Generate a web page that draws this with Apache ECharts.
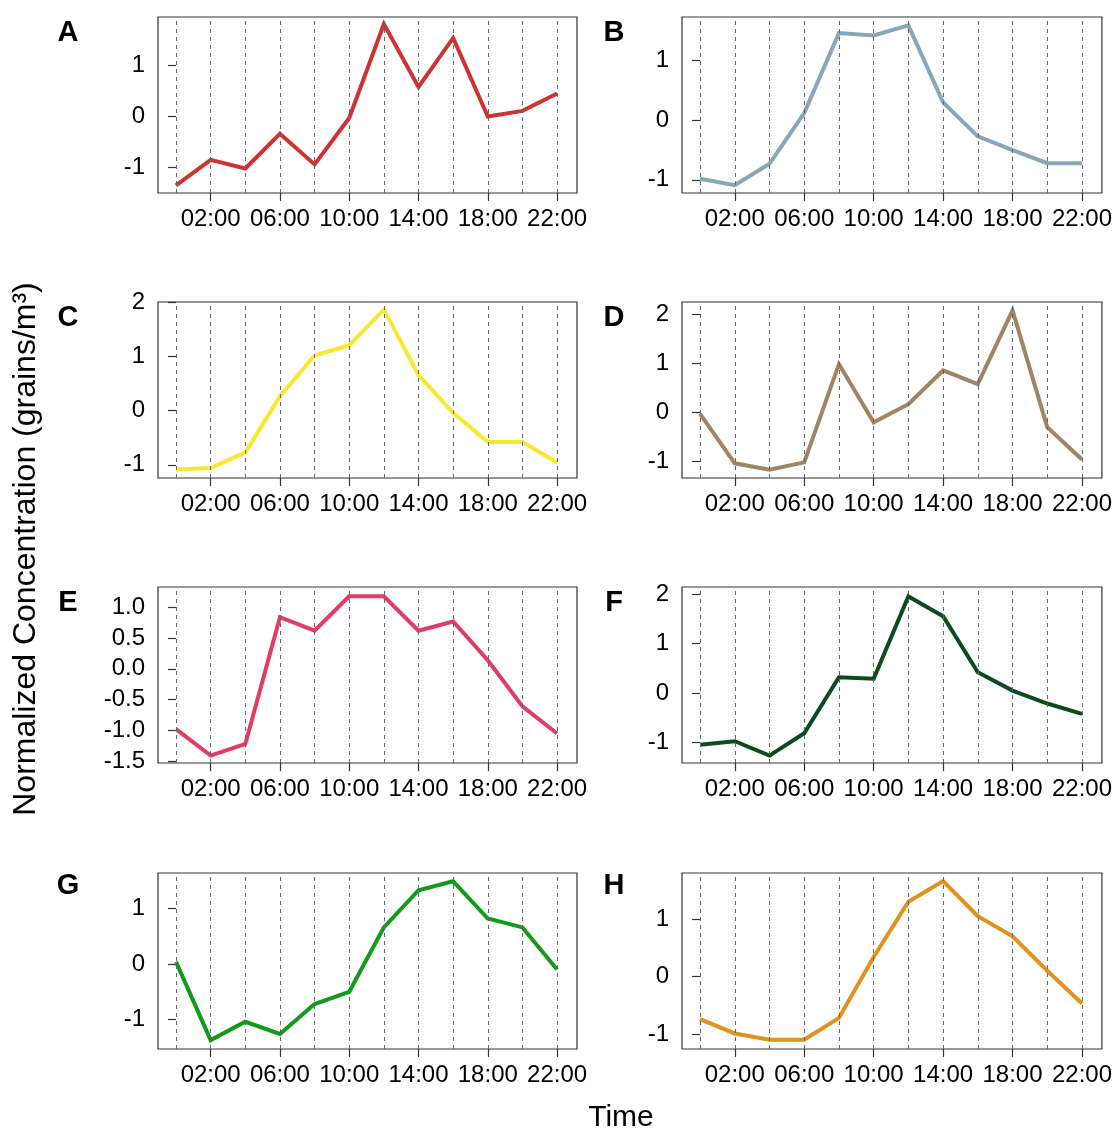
<!DOCTYPE html>
<html>
<head>
<meta charset="utf-8">
<script src="https://cdn.jsdelivr.net/npm/echarts@6/dist/echarts.min.js"></script>
<style>
html,body{margin:0;padding:0;background:#fff;}
#chart{width:1115px;height:1129px;}
</style>
</head>
<body>
<div id="chart"></div>
<script>
// ---- data ----
const hours = [0, 2, 4, 6, 8, 10, 12, 14, 16, 18, 20, 22];
const xTickHours = [2, 6, 10, 14, 18, 22];
const panelLetters = ['A', 'B', 'C', 'D', 'E', 'F', 'G', 'H'];
const seriesA = [-1.36, -0.86, -1.03, -0.35, -0.95, -0.04, 1.80, 0.57, 1.53, -0.01, 0.10, 0.44];
const seriesB = [-0.98, -1.09, -0.73, 0.12, 1.46, 1.42, 1.59, 0.30, -0.27, -0.50, -0.72, -0.72];
const seriesC = [-1.09, -1.06, -0.77, 0.27, 1.02, 1.21, 1.87, 0.66, -0.04, -0.58, -0.58, -0.96];
const seriesD = [-0.04, -1.05, -1.18, -1.03, 0.98, -0.21, 0.16, 0.85, 0.57, 2.08, -0.31, -0.97];
const seriesE = [-0.98, -1.41, -1.22, 0.84, 0.62, 1.18, 1.18, 0.62, 0.77, 0.14, -0.61, -1.05];
const seriesF = [-1.04, -0.97, -1.26, -0.81, 0.32, 0.29, 1.95, 1.55, 0.42, 0.05, -0.21, -0.42];
const seriesG = [0.04, -1.37, -1.04, -1.26, -0.72, -0.50, 0.66, 1.33, 1.49, 0.82, 0.66, -0.10];
const seriesH = [-0.74, -0.99, -1.10, -1.10, -0.72, 0.34, 1.30, 1.66, 1.05, 0.70, 0.10, -0.47];
const allSeries = [seriesA, seriesB, seriesC, seriesD, seriesE, seriesF, seriesG, seriesH];
const yTicks = [
  [-1, 0, 1], [-1, 0, 1], [-1, 0, 1, 2], [-1, 0, 1, 2],
  [-1.5, -1.0, -0.5, 0.0, 0.5, 1.0], [-1, 0, 1, 2], [-1, 0, 1], [-1, 0, 1]
];
const yMins = [-1.51, -1.22, -1.245, -1.35, -1.53, -1.41, -1.53, -1.26];
const yMaxs = [1.94, 1.73, 2.01, 2.25, 1.33, 2.14, 1.64, 1.80];
const xMin = -1.04, xMax = 23.15;
const colors = ['#CD3333', '#87A6BA', '#F8E831', '#A08463', '#E03C66', '#0D4A22', '#139A1D', '#E0921F'];

// ---- layout ----
const colLeft = [158, 682];
const colWidth = [419, 420];
const rowTop = [17, 302, 587, 873];
const plotH = 176;
const letterX = [68, 614];
const letterY = [33, 318, 603, 886];
const FONT = '"Liberation Sans", Arial, sans-serif';

const grids = [], xAxes = [], yAxes = [], series = [], graphics = [];
for (let i = 0; i < 8; i++) {
  const c = i % 2, r = Math.floor(i / 2);
  grids.push({
    left: colLeft[c], top: rowTop[r], width: colWidth[c], height: plotH,
    show: true, borderColor: '#333', borderWidth: 1.2, backgroundColor: 'transparent'
  });
  xAxes.push({
    gridIndex: i, type: 'value', min: xMin, max: xMax,
    axisLine: { show: false, onZero: false },
    axisTick: { show: true, length: 8, lineStyle: { color: '#333', width: 1.2 }, customValues: xTickHours },
    axisLabel: {
      customValues: xTickHours, margin: 14, color: '#000', fontSize: 24, fontFamily: FONT,
      formatter: v => String(v).padStart(2, '0') + ':00'
    },
    splitLine: { show: false }
  });
  const isE = i === 4;
  yAxes.push({
    gridIndex: i, type: 'value', min: yMins[i], max: yMaxs[i],
    axisLine: { show: false },
    axisTick: { show: true, length: 8, lineStyle: { color: '#333', width: 1.2 }, customValues: yTicks[i] },
    axisLabel: {
      customValues: yTicks[i], margin: 13, color: '#000', fontSize: 24, fontFamily: FONT,
      formatter: v => isE ? Number(v).toFixed(1) : String(Math.round(v))
    },
    splitLine: { show: false }
  });
  series.push({
    type: 'line', xAxisIndex: i, yAxisIndex: i,
    data: hours.map((h, k) => [h, allSeries[i][k]]),
    showSymbol: false, symbol: 'none',
    lineStyle: { color: colors[i], width: 4, join: 'miter' },
    itemStyle: { color: colors[i] },
    z: 3,
    markLine: {
      silent: true, symbol: ['none', 'none'], animation: false,
      label: { show: false },
      lineStyle: { color: '#666', width: 1, type: [4, 4] },
      data: hours.map(h => ({ xAxis: h }))
    }
  });
  graphics.push({
    type: 'text', x: letterX[c], y: letterY[r],
    style: { text: panelLetters[i], font: 'bold 29px ' + FONT, fill: '#000', align: 'center', verticalAlign: 'middle' }
  });
}
graphics.push({
  type: 'text', x: 26, y: 549, rotation: Math.PI / 2,
  style: { text: 'Normalized Concentration (grains/m³)', font: '32px ' + FONT, fill: '#000', align: 'center', verticalAlign: 'middle' }
});
graphics.push({
  type: 'text', x: 621, y: 1118,
  style: { text: 'Time', font: '30px ' + FONT, fill: '#000', align: 'center', verticalAlign: 'middle' }
});

const chart = echarts.init(document.getElementById('chart'), null, { renderer: 'canvas' });
chart.setOption({
  animation: false,
  backgroundColor: '#fff',
  grid: grids, xAxis: xAxes, yAxis: yAxes, series: series,
  graphic: graphics
});
</script>
</body>
</html>
